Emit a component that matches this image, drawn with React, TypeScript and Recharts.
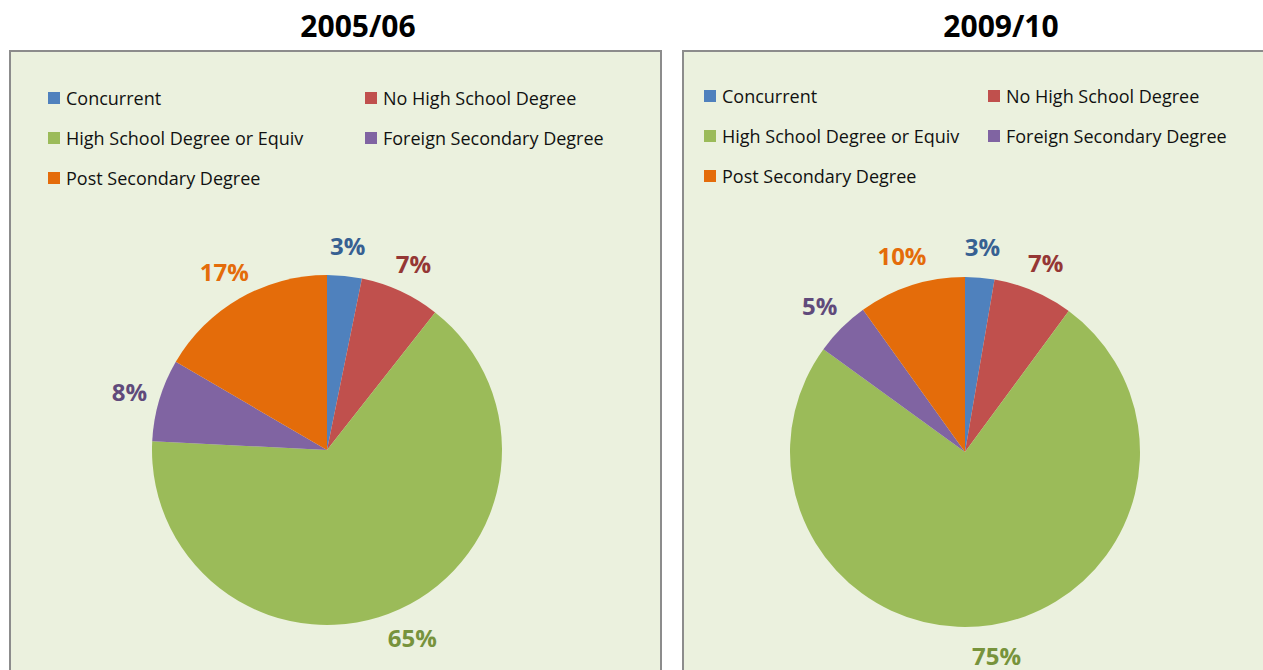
import React from 'react';
import { PieChart, Pie, Cell } from 'recharts';

const categories = ['Concurrent', 'No High School Degree', 'High School Degree or Equiv', 'Foreign Secondary Degree', 'Post Secondary Degree'];
const values2005 = [3.2, 7.4, 65.2, 7.6, 16.6];
const values2010 = [2.7, 7.4, 74.9, 5.1, 9.9];
const titles = ['2005/06', '2009/10'];
const fillColors = ['#4F81BD', '#C0504D', '#9BBB59', '#8064A2', '#E46C0A'];
const labelColors = ['#376092', '#953735', '#77933C', '#604A7B', '#E46C0A'];

const FONT = '"Open Sans", "Noto Sans", sans-serif';

const makeData = (vals: number[]) => categories.map((name, i) => ({ name, value: vals[i] }));

const renderLabel = (props: any) => {
  const { cx, cy, midAngle, outerRadius, index, value } = props;
  const RAD = Math.PI / 180;
  const r = outerRadius + 31;
  const x = cx + r * Math.cos(-midAngle * RAD);
  const y = cy + r * Math.sin(-midAngle * RAD);
  return (
    <text x={x} y={y} fill={labelColors[index]} textAnchor="middle" dominantBaseline="central"
      style={{ fontFamily: FONT, fontWeight: 700, fontSize: 24 }}>
      {`${Math.round(value)}%`}
    </text>
  );
};

const LegendBlock = ({ left, top, colX }: { left: number; top: number; colX: number[] }) => (
  <div style={{ position: 'absolute', left, top, width: 600, height: 130 }}>
    {categories.map((name, i) => {
      const col = i % 2;
      const row = Math.floor(i / 2);
      return (
        <div key={i} style={{ position: 'absolute', left: colX[col], top: row * 40, display: 'flex', alignItems: 'center', fontFamily: FONT, fontSize: 18, color: '#111', whiteSpace: 'nowrap', height: 22 }}>
          <span style={{ display: 'inline-block', width: 12, height: 12, background: fillColors[i], marginRight: 6 }} />
          <span>{name}</span>
        </div>
      );
    })}
  </div>
);

type PanelProps = {
  left: number; width: number; title: string; titleX: number; values: number[];
  cx: number; cy: number; legendTop: number; colX: number[];
};

const Panel = ({ left, width, title, titleX, values, cx, cy, legendTop, colX }: PanelProps) => (
  <>
    <div style={{ position: 'absolute', left: titleX - 100, top: 6, width: 200, textAlign: 'center', fontFamily: FONT, fontWeight: 700, fontSize: 30, color: '#000', lineHeight: '40px' }}>{title}</div>
    <div style={{ position: 'absolute', left, top: 50, width: width - 4, height: 660, background: '#EBF1DE', border: '2px solid #8C8C8C' }} />
    <LegendBlock left={left} top={50 + legendTop} colX={colX} />
    <div style={{ position: 'absolute', left, top: 50 }}>
      <PieChart width={width} height={620} margin={{ top: 0, right: 0, bottom: 0, left: 0 }}>
        <Pie data={makeData(values)} dataKey="value" nameKey="name" cx={cx} cy={cy} outerRadius={175}
          startAngle={90} endAngle={-270} stroke="none" isAnimationActive={false}
          label={renderLabel} labelLine={false}>
          {values.map((_, i) => <Cell key={i} fill={fillColors[i]} />)}
        </Pie>
      </PieChart>
    </div>
  </>
);

export default function App() {
  return (
    <div style={{ position: 'absolute', left: 0, top: 0, width: 1263, height: 670, overflow: 'hidden', background: '#fff' }}>
      <Panel left={9} width={653} title={titles[0]} titleX={358} values={values2005} cx={318} cy={400} legendTop={37} colX={[39, 356]} />
      <Panel left={682} width={600} title={titles[1]} titleX={1001} values={values2010} cx={283} cy={402} legendTop={35} colX={[22, 306]} />
    </div>
  );
}
